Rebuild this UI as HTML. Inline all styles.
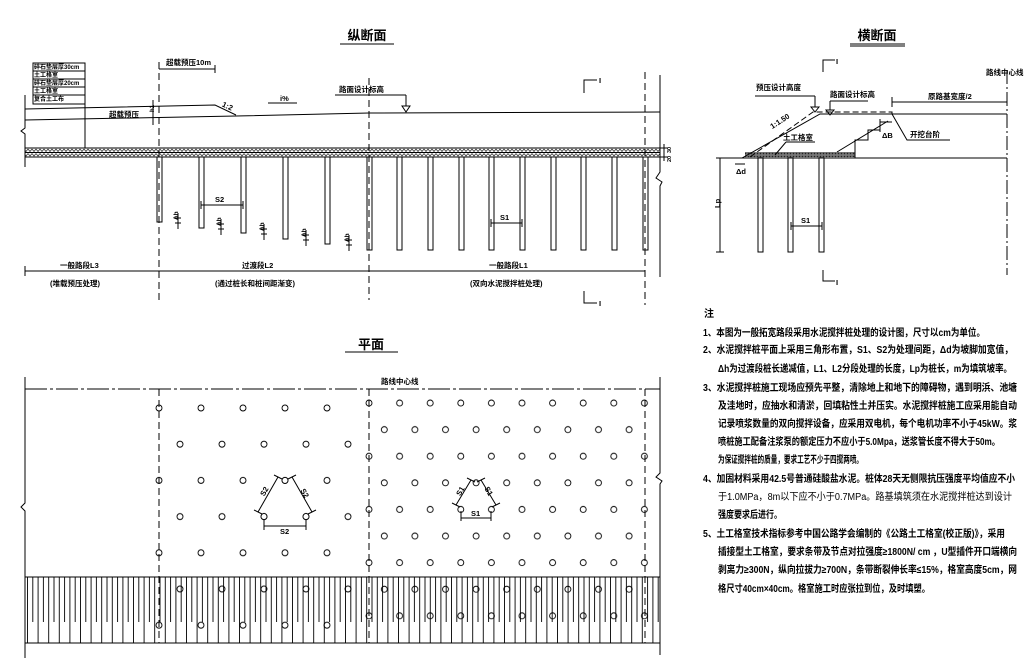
<!DOCTYPE html>
<html><head><meta charset="utf-8"><style>
html,body{margin:0;padding:0;background:#fff;}
svg{display:block;}
text{font-family:"Liberation Sans","Noto Sans CJK SC",sans-serif;font-weight:bold;fill:#000;}
</style></head><body>
<svg width="1025" height="671" viewBox="0 0 1025 671" xmlns="http://www.w3.org/2000/svg">
<defs>
<pattern id="grav" patternUnits="userSpaceOnUse" x="0" y="148" width="4" height="9">
<rect width="4" height="9" fill="#fff"/>
<polyline points="0,1 2,3.5 4,1" fill="none" stroke="#333" stroke-width="0.8"/>
<polyline points="0,5.5 2,8 4,5.5" fill="none" stroke="#333" stroke-width="0.8"/>
</pattern>
<pattern id="grav2" patternUnits="userSpaceOnUse" x="0" y="152" width="3" height="3">
<rect width="3" height="3" fill="#777"/>
<circle cx="1.5" cy="1.5" r="0.8" fill="#222"/>
</pattern>
<pattern id="hatch" patternUnits="userSpaceOnUse" x="27" y="577" width="10.6" height="66">
<line x1="0.5" y1="0" x2="0.5" y2="66" stroke="#000" stroke-width="0.9"/>
<line x1="5.8" y1="0" x2="5.8" y2="45" stroke="#000" stroke-width="0.9"/>
</pattern>
<pattern id="c1" patternUnits="userSpaceOnUse" x="365.5" y="399.5" width="61.2" height="53.2">
<g fill="none" stroke="#000" stroke-width="0.9">
<circle cx="3.5" cy="3.5" r="3"/><circle cx="34.1" cy="3.5" r="3"/>
<circle cx="18.8" cy="30.1" r="3"/><circle cx="49.4" cy="30.1" r="3"/>
</g></pattern>
<pattern id="c2" patternUnits="userSpaceOnUse" x="155.5" y="404.5" width="42" height="72.4">
<g fill="none" stroke="#000" stroke-width="0.9">
<circle cx="3.5" cy="3.5" r="3"/><circle cx="24.5" cy="39.7" r="3"/>
</g></pattern>
</defs>

<g stroke="#000" stroke-width="1" fill="none">
<!-- ===== 纵断面 ===== -->
<line x1="340" y1="44" x2="394" y2="44"/>
<!-- left border with break -->
<polyline points="25,95 25,128 21,131 25,134 25,167"/>
<!-- right border -->
<polyline points="660,75 660,172 656,178 662,182 660,186 660,277"/>
<!-- layer table -->
<rect x="33" y="63" width="52" height="41"/>
<line x1="33" y1="71" x2="85" y2="71"/><line x1="33" y1="79" x2="85" y2="79"/>
<line x1="33" y1="87" x2="85" y2="87"/><line x1="33" y1="95" x2="85" y2="95"/>
<line x1="85" y1="104" x2="85" y2="148"/>
<!-- fill lines -->
<polyline points="25,109 215,105 236,115"/>
<polyline points="25,120 236,116 369,113 660,112"/>
<line x1="153" y1="100" x2="153" y2="125"/>
<line x1="159" y1="69" x2="215" y2="69"/><line x1="215" y1="65" x2="215" y2="73"/>
<line x1="268" y1="103" x2="297" y2="103"/>
<line x1="335" y1="95" x2="406" y2="95"/><line x1="406" y1="95" x2="406" y2="106"/>
<polygon points="402,106 410,106 406,112"/>
<!-- gravel -->
<rect x="25" y="148" width="635" height="9" fill="url(#grav)"/>
<line x1="25" y1="152.5" x2="660" y2="152.5"/>
<line x1="660" y1="148" x2="668" y2="148"/><line x1="660" y1="157" x2="668" y2="157"/><line x1="664" y1="144" x2="664" y2="161"/>
<!-- piles -->
<rect x="157" y="157" width="5" height="65"/>
<rect x="199" y="157" width="5" height="71"/>
<rect x="241" y="157" width="5" height="76"/>
<rect x="283" y="157" width="5" height="82"/>
<rect x="325" y="157" width="5" height="87"/>
<rect x="367" y="157" width="5" height="93"/>
<rect x="397" y="157" width="5" height="93"/>
<rect x="428" y="157" width="5" height="93"/>
<rect x="459" y="157" width="5" height="93"/>
<rect x="489" y="157" width="5" height="93"/>
<rect x="520" y="157" width="5" height="93"/>
<rect x="551" y="157" width="5" height="93"/>
<rect x="581" y="157" width="5" height="93"/>
<rect x="612" y="157" width="5" height="93"/>
<rect x="643" y="157" width="5" height="93"/>
<!-- dh marks -->
<line x1="178" y1="213" x2="178" y2="229"/><line x1="175" y1="218" x2="181" y2="218"/><line x1="175" y1="223" x2="181" y2="223"/>
<line x1="221" y1="219" x2="221" y2="235"/><line x1="218" y1="224" x2="224" y2="224"/><line x1="218" y1="229" x2="224" y2="229"/>
<line x1="264" y1="224" x2="264" y2="240"/><line x1="261" y1="229" x2="267" y2="229"/><line x1="261" y1="234" x2="267" y2="234"/>
<line x1="306" y1="230" x2="306" y2="246"/><line x1="303" y1="235" x2="309" y2="235"/><line x1="303" y1="240" x2="309" y2="240"/>
<line x1="349" y1="235" x2="349" y2="251"/><line x1="346" y1="240" x2="352" y2="240"/><line x1="346" y1="245" x2="352" y2="245"/>
<!-- S2 / S1 dims -->
<line x1="201" y1="205" x2="243" y2="205"/><line x1="201" y1="201" x2="201" y2="209"/><line x1="243" y1="201" x2="243" y2="209"/>
<line x1="491" y1="223" x2="522" y2="223"/><line x1="491" y1="219" x2="491" y2="227"/><line x1="522" y1="219" x2="522" y2="227"/>
<!-- bottom dim -->
<line x1="25" y1="271" x2="645" y2="271"/>
<line x1="25" y1="266" x2="25" y2="276"/>
<!-- dashed verticals -->
<g stroke-dasharray="7,4">
<line x1="159" y1="62" x2="159" y2="300"/>
<line x1="369" y1="78" x2="369" y2="300"/>
<line x1="645" y1="72" x2="645" y2="305"/>
</g>
<!-- section marks -->
<polyline points="584,93 584,80 597,80"/>
<polyline points="584,291 584,303 597,303"/>

<!-- ===== 横断面 ===== -->
<line x1="850" y1="44" x2="905" y2="44"/><line x1="850" y1="46" x2="905" y2="46"/>
<line x1="1007" y1="70" x2="1007" y2="275" stroke-dasharray="14,3,2,3"/>
<line x1="716" y1="158" x2="1007" y2="158"/>
<rect x="745" y="152" width="110" height="6" fill="url(#grav2)" stroke="none"/>
<polyline points="742,158 820,114 892,114 1007,114"/>
<polyline points="837,152 888,121"/>
<polyline points="855,158 855,140 868,140 868,130 880,130 880,122 892,122"/>
<line x1="880" y1="119" x2="880" y2="132"/>
<polyline points="892,114 907,140 950,140"/>
<polyline points="750,157 813,112 892,112 892,114" stroke-dasharray="6,3"/>
<line x1="892" y1="102" x2="1007" y2="102"/><line x1="892" y1="97" x2="892" y2="107"/>
<line x1="755" y1="96" x2="815" y2="96"/><line x1="815" y1="96" x2="815" y2="107"/>
<polygon points="811,107 819,107 815,112"/>
<line x1="830" y1="101" x2="868" y2="101"/><line x1="830" y1="101" x2="830" y2="110"/>
<polygon points="826,110 834,110 830,115"/>
<line x1="786" y1="142" x2="815" y2="142"/><line x1="786" y1="142" x2="775" y2="155"/>
<rect x="758" y="158" width="5" height="94"/>
<rect x="788" y="158" width="5" height="94"/>
<rect x="819" y="158" width="5" height="94"/>
<line x1="720" y1="158" x2="720" y2="252"/><line x1="716" y1="158" x2="724" y2="158"/><line x1="716" y1="252" x2="724" y2="252"/>
<line x1="791" y1="226" x2="822" y2="226"/><line x1="791" y1="222" x2="791" y2="230"/><line x1="822" y1="222" x2="822" y2="230"/>
<line x1="735" y1="164" x2="745" y2="164"/>
<polyline points="823,72 823,60 835,60"/>
<polyline points="823,270 823,281 835,281"/>

<!-- ===== 平面 ===== -->
<line x1="345" y1="352" x2="398" y2="352"/>
<polyline points="25,377 25,503 21,507 25,511 25,658"/>
<polyline points="660,377 660,473 656,477 662,481 660,484 660,655"/>
<line x1="25" y1="389" x2="660" y2="389" stroke-dasharray="22,3,3,3"/>
<rect x="25" y="577" width="635" height="66" fill="url(#hatch)"/>
<rect x="364" y="398" width="286" height="223" fill="url(#c1)" stroke="none"/>
<rect x="154" y="403" width="198" height="227" fill="url(#c2)" stroke="none"/>
<g stroke-dasharray="7,4">
<line x1="159" y1="389" x2="159" y2="643"/>
<line x1="369" y1="389" x2="369" y2="643"/>
<line x1="645" y1="389" x2="645" y2="643"/>
</g>
<!-- S2 triangle dims -->
<line x1="258" y1="512" x2="278" y2="477"/><line x1="254" y1="510" x2="262" y2="514"/><line x1="274" y1="475" x2="282" y2="479"/>
<line x1="292" y1="477" x2="312" y2="512"/><line x1="288" y1="479" x2="296" y2="475"/><line x1="308" y1="514" x2="316" y2="510"/>
<line x1="264" y1="526" x2="306" y2="526"/><line x1="264" y1="518" x2="264" y2="530"/><line x1="306" y1="518" x2="306" y2="530"/>
<!-- S1 triangle dims -->
<line x1="456" y1="505" x2="471" y2="480"/><line x1="452" y1="503" x2="460" y2="507"/><line x1="467" y1="478" x2="475" y2="482"/>
<line x1="481" y1="480" x2="496" y2="505"/><line x1="477" y1="482" x2="485" y2="478"/><line x1="492" y1="507" x2="500" y2="503"/>
<line x1="461" y1="518" x2="491" y2="518"/><line x1="461" y1="511" x2="461" y2="521"/><line x1="491" y1="511" x2="491" y2="521"/>
</g>
<g fill="#fff" stroke="#000" stroke-width="0.9">
<circle cx="285" cy="480.4" r="3"/><circle cx="264" cy="516.6" r="3"/><circle cx="306" cy="516.6" r="3"/>
</g>

<!-- ===== TEXT ===== -->
<text x="367" y="40" font-size="13" text-anchor="middle">纵断面</text>
<text x="877" y="40" font-size="13" text-anchor="middle">横断面</text>
<text x="371" y="349" font-size="13" text-anchor="middle">平面</text>

<g font-size="6">
<text x="34" y="69">碎石垫层厚30cm</text>
<text x="34" y="77">土工格室</text>
<text x="34" y="85">碎石垫层厚20cm</text>
<text x="34" y="93">土工格室</text>
<text x="34" y="101">复合土工布</text>
</g>
<g font-size="7.5">
<text x="166" y="65">超载预压10m</text>
<text x="109" y="117">超载预压</text>
<text x="339" y="92">路面设计标高</text>
<text x="280" y="101">i%</text>
<text x="222" y="108" transform="rotate(25 226 106)">1:2</text>
<text x="150" y="116" transform="rotate(-90 150 112)" font-size="6">h1</text>
<text x="215" y="202">S2</text>
<text x="500" y="220">S1</text>
<text x="60" y="268">一般路段L3</text>
<text x="242" y="268">过渡段L2</text>
<text x="489" y="268">一般路段L1</text>
<text x="50" y="286">(堆载预压处理)</text>
<text x="215" y="286">(通过桩长和桩间距渐变)</text>
<text x="470" y="286">(双向水泥搅拌桩处理)</text>
<text x="599" y="83">I</text>
<text x="599" y="306">I</text>
<text x="667" y="153" font-size="5.5" transform="rotate(-90 669 151)">30</text>
<text x="667" y="162" font-size="5.5" transform="rotate(-90 669 160)">20</text>
</g>
<g font-size="6.5">
<text x="175" y="225" transform="rotate(-90 174 221)">Δh</text>
<text x="218" y="231" transform="rotate(-90 217 227)">Δh</text>
<text x="261" y="236" transform="rotate(-90 260 232)">Δh</text>
<text x="303" y="242" transform="rotate(-90 302 238)">Δh</text>
<text x="346" y="247" transform="rotate(-90 345 243)">Δh</text>
</g>
<g font-size="7.5">
<text x="986" y="75">路线中心线</text>
<text x="756" y="90">预压设计高度</text>
<text x="830" y="97">路面设计标高</text>
<text x="928" y="99">原路基宽度/2</text>
<text x="769" y="126" transform="rotate(-33 776 122)">1:1.50</text>
<text x="783" y="140">土工格室</text>
<text x="882" y="138">ΔB</text>
<text x="910" y="137">开挖台阶</text>
<text x="736" y="174">Δd</text>
<text x="714" y="210" transform="rotate(-90 716 206)">Lp</text>
<text x="801" y="223">S1</text>
<text x="836" y="64">I</text>
<text x="836" y="285">I</text>
<text x="381" y="384">路线中心线</text>
<text x="280" y="534">S2</text>
<text x="471" y="516">S1</text>
<text x="261" y="495" transform="rotate(-60 264 493)">S2</text>
<text x="300" y="495" transform="rotate(60 304 493)">S2</text>
<text x="456" y="493" transform="rotate(-60 461 491)">S1</text>
<text x="484" y="493" transform="rotate(60 488 491)">S1</text>
</g>

<g font-size="10" lengthAdjust="spacingAndGlyphs">
<text x="704" y="317">注</text>
<text x="703" y="336" textLength="282" lengthAdjust="spacingAndGlyphs">1、本图为一般拓宽路段采用水泥搅拌桩处理的设计图，尺寸以cm为单位。</text>
<text x="703" y="353" textLength="310" lengthAdjust="spacingAndGlyphs">2、水泥搅拌桩平面上采用三角形布置，S1、S2为处理间距，Δd为坡脚加宽值，</text>
<text x="718" y="372" textLength="294" lengthAdjust="spacingAndGlyphs">Δh为过渡段桩长递减值，L1、L2分段处理的长度，Lp为桩长，m为填筑坡率。</text>
<text x="703" y="391" textLength="314" lengthAdjust="spacingAndGlyphs">3、水泥搅拌桩施工现场应预先平整，清除地上和地下的障碍物，遇到明浜、池塘</text>
<text x="718" y="409" textLength="299" lengthAdjust="spacingAndGlyphs">及洼地时，应抽水和清淤，回填粘性土并压实。水泥搅拌桩施工应采用能自动</text>
<text x="718" y="427" textLength="299" lengthAdjust="spacingAndGlyphs">记录喷浆数量的双向搅拌设备，应采用双电机，每个电机功率不小于45kW。浆</text>
<text x="718" y="445" textLength="282" lengthAdjust="spacingAndGlyphs">喷桩施工配备注浆泵的额定压力不应小于5.0Mpa，送浆管长度不得大于50m。</text>
<text x="718" y="463" textLength="145" lengthAdjust="spacingAndGlyphs">为保证搅拌桩的质量，要求工艺不少于四搅两喷。</text>
<text x="703" y="482" textLength="312" lengthAdjust="spacingAndGlyphs">4、加固材料采用42.5号普通硅酸盐水泥。桩体28天无侧限抗压强度平均值应不小</text>
<text x="718" y="500" textLength="294" lengthAdjust="spacingAndGlyphs" style="font-weight:normal">于1.0MPa，8m以下应不小于0.7MPa。路基填筑须在水泥搅拌桩达到设计</text>
<text x="718" y="518" textLength="64" lengthAdjust="spacingAndGlyphs">强度要求后进行。</text>
<text x="703" y="537" textLength="302" lengthAdjust="spacingAndGlyphs">5、土工格室技术指标参考中国公路学会编制的《公路土工格室(校正版)》，采用</text>
<text x="718" y="555" textLength="299" lengthAdjust="spacingAndGlyphs">插接型土工格室，要求条带及节点对拉强度≥1800N/ cm ，U型插件开口端横向</text>
<text x="718" y="573" textLength="299" lengthAdjust="spacingAndGlyphs">剥离力≥300N，纵向拉拔力≥700N，条带断裂伸长率≤15%，格室高度5cm，网</text>
<text x="718" y="592" textLength="212" lengthAdjust="spacingAndGlyphs">格尺寸40cm×40cm。格室施工时应张拉到位，及时填塑。</text>
</g>
</svg>
</body></html>
